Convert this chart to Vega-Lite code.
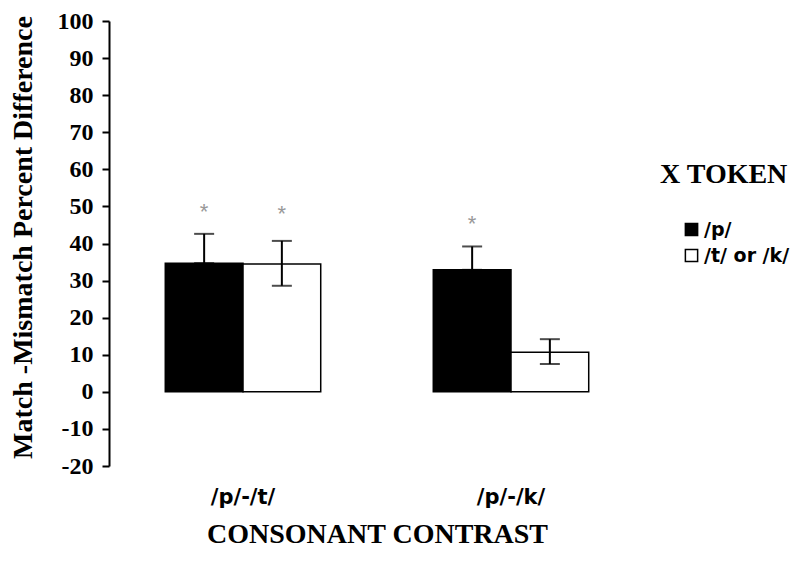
{
  "$schema": "https://vega.github.io/schema/vega-lite/v6.json",
  "width": 536,
  "height": 445,
  "autosize": {"type": "none"},
  "padding": {"left": 109, "top": 21, "right": 155, "bottom": 96},
  "background": "white",
  "config": {
    "view": {"stroke": null},
    "axisY": {
      "grid": false,
      "domainColor": "black",
      "domainWidth": 2,
      "tickColor": "black",
      "tickWidth": 2,
      "tickSize": 7,
      "labelPadding": 9,
      "labelFont": "Liberation Serif",
      "labelFontWeight": "bold",
      "labelFontSize": 24,
      "labelColor": "black",
      "labelFlush": false,
      "labelOverlap": false,
      "labelExpr": "datum.value < 0 ? '-' + abs(datum.value) : '' + datum.value",
      "titleFont": "Liberation Serif",
      "titleFontSize": 28,
      "titleFontWeight": "bold",
      "titleColor": "black",
      "titleAngle": -90,
      "titleX": -86,
      "titleY": 216,
      "titleBaseline": "middle",
      "titleAlign": "center"
    }
  },
  "data": {
    "values": [
      {"contrast": "/p/-/t/", "token": "/p/", "value": 34.7, "lo": 34.7, "hi": 42.6, "star": 49.9},
      {"contrast": "/p/-/t/", "token": "/t/ or /k/", "value": 34.5, "lo": 28.6, "hi": 40.7, "star": 49.3},
      {"contrast": "/p/-/k/", "token": "/p/", "value": 32.9, "lo": 32.9, "hi": 39.2, "star": 46.6},
      {"contrast": "/p/-/k/", "token": "/t/ or /k/", "value": 10.7, "lo": 7.5, "hi": 14.2, "star": null}
    ]
  },
  "encoding": {
    "x": {
      "field": "contrast",
      "type": "nominal",
      "sort": ["/p/-/t/", "/p/-/k/"],
      "scale": {"paddingInner": 0.42, "paddingOuter": 0.21},
      "title": "CONSONANT CONTRAST",
      "axis": {
        "domain": false,
        "ticks": false,
        "labelPadding": 20,
        "labelFont": "DejaVu Sans",
        "labelFontWeight": "bold",
        "labelFontSize": 21,
        "labelAngle": 0,
        "labelColor": "black",
        "titleFont": "Liberation Serif",
        "titleFontSize": 28,
        "titleFontWeight": "bold",
        "titleColor": "black",
        "titleY": 76,
        "titleBaseline": "alphabetic"
      }
    },
    "xOffset": {
      "field": "token",
      "type": "nominal",
      "sort": ["/p/", "/t/ or /k/"],
      "scale": {"paddingInner": 0, "paddingOuter": 0}
    }
  },
  "layer": [
    {
      "mark": {"type": "bar", "stroke": "black", "strokeWidth": 1.5},
      "encoding": {
        "y": {
          "field": "value",
          "type": "quantitative",
          "scale": {"domain": [-20, 100], "nice": false},
          "title": "Match -Mismatch Percent Difference",
          "axis": {"values": [-20, -10, 0, 10, 20, 30, 40, 50, 60, 70, 80, 90, 100]}
        },
        "y2": {"datum": 0},
        "fill": {
          "field": "token",
          "type": "nominal",
          "sort": ["/p/", "/t/ or /k/"],
          "scale": {"domain": ["/p/", "/t/ or /k/"], "range": ["black", "white"]},
          "legend": {
            "title": "X TOKEN",
            "orient": "none",
            "legendX": 551,
            "legendY": 140,
            "padding": 0,
            "titleFont": "Liberation Serif",
            "titleFontSize": 28,
            "titleFontWeight": "bold",
            "titleColor": "black",
            "titlePadding": 31,
            "symbolType": "square",
            "symbolSize": 150,
            "symbolStrokeColor": "black",
            "symbolStrokeWidth": 1.5,
            "symbolOffset": 22,
            "labelFont": "DejaVu Sans",
            "labelFontWeight": "bold",
            "labelFontSize": 19,
            "labelColor": "black",
            "labelOffset": 3,
            "rowPadding": 6
          }
        }
      }
    },
    {
      "mark": {"type": "rule", "color": "black", "strokeWidth": 2},
      "encoding": {
        "y": {"field": "lo", "type": "quantitative", "axis": {"values": [-20, -10, 0, 10, 20, 30, 40, 50, 60, 70, 80, 90, 100]}},
        "y2": {"field": "hi"}
      }
    },
    {
      "mark": {"type": "tick", "color": "black", "thickness": 2, "size": 20},
      "encoding": {"y": {"field": "hi", "type": "quantitative", "axis": {"values": [-20, -10, 0, 10, 20, 30, 40, 50, 60, 70, 80, 90, 100]}}}
    },
    {
      "mark": {"type": "tick", "color": "black", "thickness": 2, "size": 20},
      "encoding": {"y": {"field": "lo", "type": "quantitative", "axis": {"values": [-20, -10, 0, 10, 20, 30, 40, 50, 60, 70, 80, 90, 100]}}}
    },
    {
      "transform": [{"filter": "datum.star != null"}],
      "mark": {"type": "text", "text": "*", "color": "#999999", "fontSize": 22, "baseline": "middle", "dy": 5},
      "encoding": {"y": {"field": "star", "type": "quantitative", "axis": {"values": [-20, -10, 0, 10, 20, 30, 40, 50, 60, 70, 80, 90, 100]}}}
    }
  ]
}
